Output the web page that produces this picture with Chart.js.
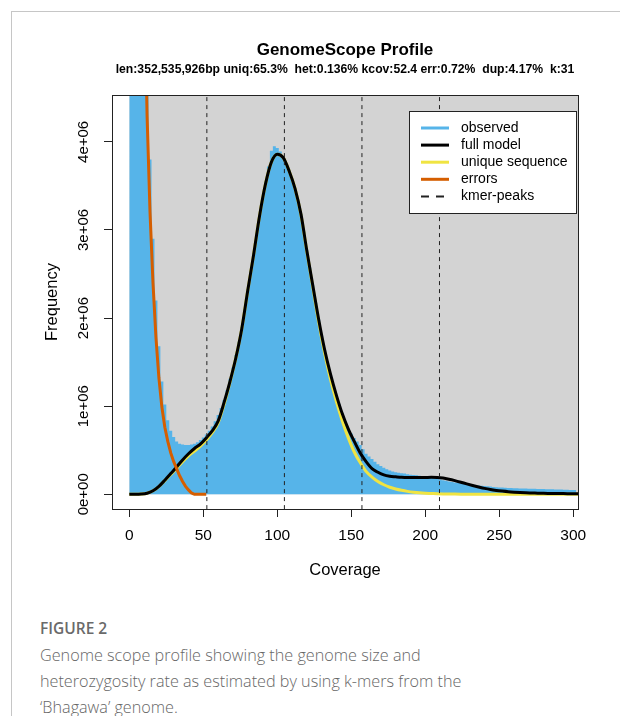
<!DOCTYPE html>
<html lang="en">
<head>
  <meta charset="UTF-8" />
  <title>GenomeScope Profile</title>
  <script src="https://cdn.jsdelivr.net/npm/chart.js"></script>
  <style>
    html, body { margin: 0; padding: 0; background: #fff; }
    body { width: 620px; height: 716px; position: relative; overflow: hidden; }
    #frame { position: absolute; left: 11px; top: 11px; width: 700px; height: 800px;
             border-left: 1px solid #c6c6c6; border-top: 1px solid #c6c6c6; }
    #chart { position: absolute; left: 0; top: 0; }
    .fig { position: absolute; left: 40px; top: 617px; font: 600 15.5px "Open Sans", sans-serif;
           color: #6a6a6a; white-space: nowrap; }
    .cap { position: absolute; left: 40px; top: 642px; font: 300 16.2px/26px "Open Sans", sans-serif;
           color: #666; white-space: nowrap; }
  </style>
</head>
<body>
  <div id="frame"></div>
  <canvas id="chart" width="620" height="600"></canvas>
  <div class="fig">FIGURE 2</div>
  <div class="cap">Genome scope profile showing the genome size and<br>heterozygosity rate as estimated by using k-mers from the<br>‘Bhagawa’ genome.</div>

  <script>
    // axis setup (frequency in millions)
    const xTicks = [0, 50, 100, 150, 200, 250, 300];
    const yTicks = [0, 1, 2, 3, 4];
    const yTickLabels = ['0e+00', '1e+06', '2e+06', '3e+06', '4e+06'];
    const xRange = [-11.7, 303.2];
    const yRange = [-0.167, 4.532];

    // observed k-mer histogram, one value every 2 coverage units from 0
    const obsStart = 0, obsStep = 2;
    const observed = [
      60, 40, 26, 17, 11, 7.2, 5.0, 3.8, 2.9, 2.2,
      1.68, 1.28, 1.02, 0.84, 0.72, 0.65, 0.6, 0.575, 0.565, 0.56,
      0.56, 0.565, 0.575, 0.59, 0.615, 0.645, 0.68, 0.72, 0.77, 0.83,
      0.90, 0.98, 1.07, 1.18, 1.31, 1.44, 1.58, 1.73, 1.90, 2.10,
      2.33, 2.53, 2.74, 2.96, 3.17, 3.37, 3.55, 3.72, 3.90, 3.95,
      3.93, 3.89, 3.83, 3.76, 3.68, 3.58, 3.47, 3.33, 3.18, 2.98,
      2.77, 2.57, 2.37, 2.17, 1.98, 1.80, 1.64, 1.50, 1.36, 1.24,
      1.13, 1.02, 0.92, 0.83, 0.75, 0.69, 0.64, 0.60, 0.56, 0.51,
      0.46, 0.43, 0.40, 0.37, 0.34, 0.32, 0.30, 0.285, 0.27, 0.26,
      0.25, 0.245, 0.24, 0.235, 0.228, 0.222, 0.218, 0.215, 0.21, 0.205,
      0.20, 0.195, 0.19, 0.183, 0.175, 0.168, 0.16, 0.153, 0.146, 0.14,
      0.135, 0.13, 0.125, 0.12, 0.116, 0.112, 0.108, 0.104, 0.10, 0.096,
      0.093, 0.09, 0.087, 0.084, 0.081, 0.078, 0.076, 0.074, 0.072, 0.07,
      0.069, 0.068, 0.067, 0.066, 0.065, 0.064, 0.063, 0.062, 0.061, 0.06,
      0.059, 0.058, 0.057, 0.056, 0.055, 0.054, 0.053, 0.052, 0.051, 0.05,
      0.05, 0.049
    ];

    // fitted curves, one value every 4 coverage units from 0
    const modelStart = 0, modelStep = 4;
    const fullModel = [
      0, 0, 0.002, 0.012, 0.04, 0.09, 0.16, 0.235, 0.31, 0.39,
      0.46, 0.52, 0.57, 0.64, 0.72, 0.83, 1.04, 1.28, 1.55, 1.88,
      2.31, 2.72, 3.16, 3.52, 3.77, 3.86, 3.82, 3.67, 3.47, 3.18,
      2.76, 2.37, 1.98, 1.64, 1.36, 1.12, 0.91, 0.74, 0.60, 0.47,
      0.37, 0.29, 0.25, 0.22, 0.205, 0.198, 0.192, 0.19, 0.19, 0.19,
      0.191, 0.193, 0.191, 0.184, 0.171, 0.155, 0.137, 0.118, 0.10, 0.083,
      0.067, 0.054, 0.044, 0.036, 0.029, 0.024, 0.02, 0.017, 0.015, 0.013,
      0.011, 0.01, 0.009, 0.008, 0.007, 0.007, 0.006
    ];
    const uniqueSeq = [
      0, 0, 0.002, 0.012, 0.04, 0.088, 0.155, 0.225, 0.295, 0.37,
      0.435, 0.49, 0.545, 0.615, 0.70, 0.81, 1.02, 1.27, 1.55, 1.88,
      2.31, 2.72, 3.16, 3.52, 3.77, 3.86, 3.82, 3.67, 3.47, 3.17,
      2.75, 2.35, 1.95, 1.6, 1.3, 1.05, 0.83, 0.64, 0.48, 0.36,
      0.26, 0.195, 0.145, 0.108, 0.08, 0.06, 0.045, 0.033, 0.024, 0.017,
      0.012, 0.009, 0.006, 0.004, 0.003, 0.002, 0.001, 0, 0, 0,
      0, 0, 0, 0, 0, 0, 0, 0, 0, 0,
      0, 0, 0, 0, 0, 0, 0
    ];

    // error k-mers, one value every 2 coverage units from 10
    const errStart = 10, errStep = 2;
    const errors = [
      6.0, 4.3, 3.2, 2.4, 1.78, 1.32, 0.99, 0.76, 0.6, 0.47,
      0.37, 0.29, 0.21, 0.145, 0.09, 0.05, 0.015, 0, 0, 0,
      0, 0
    ];

    const kmerPeaks = [52.4, 104.8, 157.2, 209.6];

    const BLUE = '#56B4E9', YELLOW = '#F0E442', ORANGE = '#D55E00';
    const FONT = '"Liberation Sans", Arial, sans-serif';

    const toPts = (vals, start, step) => vals.map((v, i) => ({ x: start + i * step, y: v }));
    const peakPts = [];
    kmerPeaks.forEach(p => {
      peakPts.push({ x: p, y: yRange[0] - 1 }, { x: p, y: yRange[1] + 1 }, { x: p, y: null });
    });

    // grey panel from (0,0) up to the top right corner
    const panelBg = {
      id: 'panelBg',
      beforeDatasetsDraw(chart) {
        const { ctx, chartArea: a, scales: { x, y } } = chart;
        const x0 = x.getPixelForValue(0), y0 = y.getPixelForValue(0);
        ctx.save();
        ctx.fillStyle = '#D3D3D3';
        ctx.fillRect(x0, a.top, a.right - x0, y0 - a.top);
        ctx.restore();
      }
    };

    const frameAndText = {
      id: 'frameAndText',
      afterDraw(chart) {
        const { ctx, chartArea: a, scales: { y } } = chart;
        ctx.save();
        // box
        ctx.strokeStyle = '#222';
        ctx.lineWidth = 1;
        ctx.strokeRect(Math.round(a.left) + 0.5, Math.round(a.top) + 0.5,
                       Math.round(a.right - a.left), Math.round(a.bottom - a.top));

        // rotated y tick labels
        ctx.fillStyle = '#000';
        ctx.font = '15px ' + FONT;
        ctx.textAlign = 'center';
        ctx.textBaseline = 'middle';
        yTicks.forEach((v, i) => {
          ctx.save();
          ctx.translate(a.left - 28, y.getPixelForValue(v));
          ctx.rotate(-Math.PI / 2);
          ctx.fillText(yTickLabels[i], 0, 0);
          ctx.restore();
        });

        // titles
        const cx = (a.left + a.right) / 2;
        ctx.font = 'bold 17px ' + FONT;
        ctx.fillText('GenomeScope Profile', cx, 50);
        ctx.font = 'bold 12.2px ' + FONT;
        ctx.fillText('len:352,535,926bp uniq:65.3%  het:0.136% kcov:52.4 err:0.72%  dup:4.17%  k:31', cx, 70);

        // legend
        const lw = 167, lh = 102;
        const lx = a.right - lw - 2, ly = a.top + 16;
        ctx.fillStyle = '#fff';
        ctx.fillRect(lx, ly, lw, lh);
        ctx.strokeStyle = '#222';
        ctx.strokeRect(Math.round(lx) + 0.5, Math.round(ly) + 0.5, lw, lh);
        ctx.font = '14px ' + FONT;
        ctx.textAlign = 'left';
        chart.data.datasets.forEach((ds, i) => {
          const ry = ly + 17 + i * 17.1;
          ctx.beginPath();
          ctx.strokeStyle = ds.borderWidth ? ds.borderColor : ds.backgroundColor;
          ctx.lineWidth = ds.borderDash ? 2 : 3;
          ctx.setLineDash(ds.borderDash ? [8, 7] : []);
          ctx.moveTo(lx + 12, ry);
          ctx.lineTo(lx + 40, ry);
          ctx.stroke();
          ctx.fillStyle = '#000';
          ctx.fillText(ds.label, lx + 52, ry);
        });
        ctx.restore();
      }
    };

    new Chart(document.getElementById('chart'), {
      type: 'line',
      data: {
        datasets: [
          { label: 'observed', data: toPts(observed, obsStart, obsStep),
            borderColor: 'rgba(0,0,0,0)', backgroundColor: BLUE, borderWidth: 0,
            fill: 'origin', stepped: 'middle', order: 5 },
          { label: 'full model', data: toPts(fullModel, modelStart, modelStep),
            borderColor: '#000', borderWidth: 3, cubicInterpolationMode: 'monotone', order: 3 },
          { label: 'unique sequence', data: toPts(uniqueSeq, modelStart, modelStep),
            borderColor: YELLOW, borderWidth: 3, cubicInterpolationMode: 'monotone', order: 4 },
          { label: 'errors', data: toPts(errors, errStart, errStep),
            borderColor: ORANGE, borderWidth: 3, order: 2 },
          { label: 'kmer-peaks', data: peakPts, borderColor: '#222', borderWidth: 1,
            borderDash: [4, 4], spanGaps: false, order: 1 }
        ]
      },
      options: {
        responsive: false,
        animation: false,
        devicePixelRatio: 1,
        events: [],
        layout: { padding: { left: 0, top: 95, right: 42, bottom: 0 } },
        elements: { point: { radius: 0 } },
        plugins: { legend: { display: false }, tooltip: { enabled: false } },
        scales: {
          x: {
            type: 'linear', min: xRange[0], max: xRange[1],
            afterBuildTicks: s => { s.ticks = xTicks.map(v => ({ value: v })); },
            afterFit: s => { s.height = 91; },
            border: { display: false },
            grid: { drawOnChartArea: false, tickLength: 8, color: '#222' },
            ticks: { color: '#000', font: { family: FONT, size: 15.5 }, padding: 9,
                     maxRotation: 0, autoSkip: false, callback: v => String(v) },
            title: { display: true, text: 'Coverage', color: '#000',
                     font: { family: FONT, size: 16.5 }, padding: { top: 0, bottom: 20 } }
          },
          y: {
            type: 'linear', min: yRange[0], max: yRange[1],
            afterBuildTicks: s => { s.ticks = yTicks.map(v => ({ value: v })); },
            afterFit: s => { s.width = 112; },
            border: { display: false },
            grid: { drawOnChartArea: false, tickLength: 8, color: '#222' },
            ticks: { display: false },
            title: { display: true, text: 'Frequency', color: '#000',
                     font: { family: FONT, size: 16.5 }, padding: { top: 43, bottom: 0 } }
          }
        }
      },
      plugins: [panelBg, frameAndText]
    });
  </script>
</body>
</html>
